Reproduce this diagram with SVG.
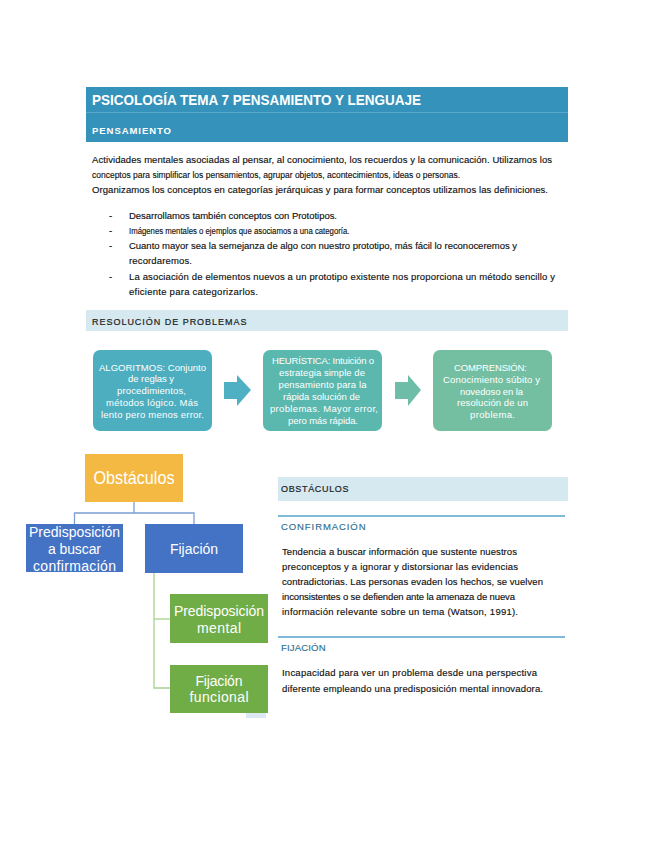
<svg xmlns="http://www.w3.org/2000/svg" width="655" height="848" viewBox="0 0 655 848">
<defs>
<style>
text{font-family:"Liberation Sans",Arial,sans-serif}
.body{font-size:9.5px;fill:#111111;stroke:#111111;stroke-width:0.15}
.bar{fill:#D6E9F1}
.sec{font-size:9px;fill:#222222;stroke:#222222;stroke-width:0.2;letter-spacing:1.5px}
.sub{font-size:9.5px;fill:#2f6f8f;stroke:#2f6f8f;stroke-width:0.15;letter-spacing:1.5px}
.pbox{font-size:9.5px;fill:#ffffff;text-anchor:middle}
.node{fill:#ffffff;text-anchor:middle}
.conn{fill:none;stroke-width:1.3}
</style>
</defs>
<rect width="655" height="848" fill="#ffffff"/>

<!-- header -->
<g id="header">
<rect x="86" y="87" width="482" height="55" fill="#3592BA"/>
<line x1="86" y1="112.5" x2="568" y2="112.5" stroke="#5aa8cb" stroke-width="1"/>
<text transform="translate(92,105) scale(0.965,1)" x="0" y="0" font-size="14" font-weight="bold" fill="#ffffff">PSICOLOGÍA TEMA 7 PENSAMIENTO Y LENGUAJE</text>
<text x="92" y="133.5" font-size="9.5" font-weight="bold" fill="#ffffff" textLength="79">PENSAMIENTO</text>
</g>

<!-- intro paragraph -->
<g id="intro">
<text class="body" x="92" y="163" textLength="460">Actividades mentales asociadas al pensar, al conocimiento, los recuerdos y la comunicación. Utilizamos los</text>
<text class="body" transform="translate(92,178) scale(0.895,1)" x="0" y="0">conceptos para simplificar los pensamientos, agrupar objetos, acontecimientos, ideas o personas.</text>
<text class="body" x="92" y="193" textLength="456">Organizamos los conceptos en categorías jerárquicas y para formar conceptos utilizamos las definiciones.</text>
</g>

<g id="bullets">
<text class="body" x="109" y="219">-</text>
<text class="body" x="129" y="219" textLength="208">Desarrollamos también conceptos con Prototipos.</text>
<text class="body" x="109" y="234">-</text>
<text class="body" transform="translate(129,234) scale(0.82,1)" x="0" y="0">Imágenes mentales o ejemplos que asociamos a una categoría.</text>
<text class="body" x="109" y="249">-</text>
<text class="body" x="129" y="249" textLength="388">Cuanto mayor sea la semejanza de algo con nuestro prototipo, más fácil lo reconoceremos y</text>
<text class="body" x="129" y="264" textLength="63">recordaremos.</text>
<text class="body" x="109" y="280">-</text>
<text class="body" x="129" y="280" textLength="426">La asociación de elementos nuevos a un prototipo existente nos proporciona un método sencillo y</text>
<text class="body" x="129" y="295" textLength="129">eficiente para categorizarlos.</text>
</g>

<!-- resolucion bar -->
<g id="resolucion">
<rect class="bar" x="86" y="310" width="482" height="21"/>
<text class="sec" x="92" y="324.5" textLength="156">RESOLUCIÓN DE PROBLEMAS</text>
</g>

<!-- process boxes -->
<g id="algoritmos">
<rect x="93" y="350" width="119" height="81" rx="7" fill="#4DAEC0"/>
<text class="pbox" x="152.5" y="370.5" textLength="107">ALGORITMOS: Conjunto</text>
<text class="pbox" x="151" y="382" textLength="46">de reglas y</text>
<text class="pbox" x="151.5" y="394" textLength="69">procedimientos,</text>
<text class="pbox" x="152" y="406" textLength="92">métodos lógico. Más</text>
<text class="pbox" x="152.5" y="418" textLength="103">lento pero menos error.</text>
</g>
<g id="heuristica">
<rect x="263" y="350" width="119" height="81" rx="7" fill="#5BB8AE"/>
<text class="pbox" x="323" y="364" textLength="102">HEURÍSTICA: Intuición o</text>
<text class="pbox" x="322" y="376" textLength="86">estrategia simple de</text>
<text class="pbox" x="322.5" y="388" textLength="88">pensamiento para la</text>
<text class="pbox" x="321.5" y="400" textLength="77">rápida solución de</text>
<text class="pbox" x="324" y="412" textLength="108">problemas. Mayor error,</text>
<text class="pbox" x="323" y="424" textLength="70">pero más rápida.</text>
</g>
<g id="comprension">
<rect x="433" y="350" width="119" height="81" rx="7" fill="#74BFA2"/>
<text class="pbox" x="490.5" y="371" textLength="73">COMPRENSIÓN:</text>
<text class="pbox" x="491.5" y="382.5" textLength="97">Conocimiento súbito y</text>
<text class="pbox" x="491.5" y="394.5" textLength="63">novedoso en la</text>
<text class="pbox" x="492.5" y="406" textLength="71">resolución de un</text>
<text class="pbox" x="492.5" y="417.5" textLength="45">problema.</text>
</g>
<g id="process-arrows">
<polygon points="224,382 237,382 237,375 251,390 237,406 237,399 224,399" fill="#4FB0C3"/>
<polygon points="395,382 408,382 408,375 421,390 408,406 408,399 395,399" fill="#6DBDA8"/>
</g>

<!-- obstacles tree -->
<g id="connectors">
<polyline class="conn" stroke="#7B9FD4" points="134,502 134,513"/>
<polyline class="conn" stroke="#7B9FD4" points="74.5,524 74.5,513 194,513 194,524"/>
<polyline class="conn" stroke="#A9D18E" stroke-width="1.5" points="154,573 154,688 170,688"/>
<polyline class="conn" stroke="#A9D18E" stroke-width="1.5" points="154,619 170,619"/>
</g>

<rect x="246" y="700" width="20" height="18" fill="#DCE9F5"/>

<g id="obstaculos">
<rect x="85" y="454" width="98" height="48" fill="#F4B942"/>
<text class="node" transform="translate(134,484) scale(0.9,1)" x="0" y="0" font-size="18">Obstáculos</text>
</g>
<g id="predisposicion-confirmacion">
<rect x="26" y="524" width="97" height="48" fill="#4472C4"/>
<text class="node" x="74.5" y="537" font-size="14" textLength="91">Predisposición</text>
<text class="node" x="74.5" y="554" font-size="14" textLength="53">a buscar</text>
<text class="node" x="74.5" y="571" font-size="14" textLength="83">confirmación</text>
</g>
<g id="fijacion">
<rect x="145" y="524" width="98" height="49" fill="#4472C4"/>
<text class="node" x="194" y="554" font-size="14" textLength="48">Fijación</text>
</g>
<g id="predisposicion-mental">
<rect x="170" y="594" width="98" height="49" fill="#70AD47"/>
<text class="node" x="219" y="616" font-size="14" textLength="90">Predisposición</text>
<text class="node" x="219" y="633" font-size="14" textLength="44">mental</text>
</g>
<g id="fijacion-funcional">
<rect x="170" y="665" width="98" height="48" fill="#70AD47"/>
<text class="node" x="219" y="686" font-size="14" textLength="47">Fijación</text>
<text class="node" x="219" y="702" font-size="14" textLength="59">funcional</text>
</g>

<!-- right column -->
<g id="obstaculos-text">
<rect class="bar" x="278" y="477" width="290" height="24"/>
<text class="sec" x="281" y="492" font-size="9.5" textLength="69">OBSTÁCULOS</text>
<line x1="278" y1="516" x2="565" y2="516" stroke="#54A5CB" stroke-width="1.5"/>
<text class="sub" x="281" y="530" textLength="86">CONFIRMACIÓN</text>
<text class="body" x="282" y="555" textLength="235">Tendencia a buscar información que sustente nuestros</text>
<text class="body" x="282" y="570" textLength="236">preconceptos y a ignorar y distorsionar las evidencias</text>
<text class="body" x="282" y="585" textLength="261">contradictorias. Las personas evaden los hechos, se vuelven</text>
<text class="body" x="282" y="600" textLength="233">inconsistentes o se defienden ante la amenaza de nueva</text>
<text class="body" x="282" y="615" textLength="236">información relevante sobre un tema (Watson, 1991).</text>
<line x1="278" y1="637" x2="565" y2="637" stroke="#54A5CB" stroke-width="1.5"/>
<text class="sub" x="281" y="651" textLength="46">FIJACIÓN</text>
<text class="body" x="282" y="676" textLength="255">Incapacidad para ver un problema desde una perspectiva</text>
<text class="body" x="282" y="692" textLength="261">diferente empleando una predisposición mental innovadora.</text>
</g>
</svg>
